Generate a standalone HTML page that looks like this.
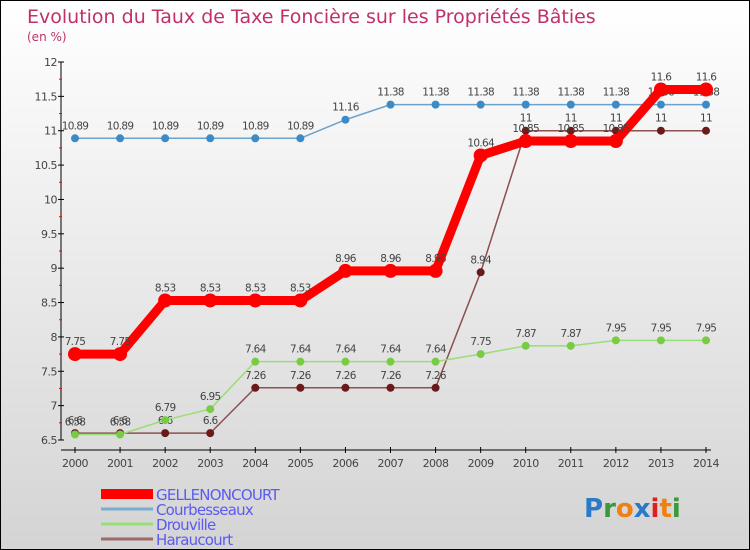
<!DOCTYPE html>
<html><head><meta charset="utf-8"><style>
body{margin:0}
#wrap{position:relative;width:748px;height:548px;border:1px solid #000;background:linear-gradient(#ffffff,#d4d4d4);font-family:"DejaVu Sans","Liberation Sans",sans-serif;overflow:hidden}
</style></head><body>
<div id="wrap">
<svg id="svg" width="748" height="548"></svg>
</div>
<script>
const years=[2000,2001,2002,2003,2004,2005,2006,2007,2008,2009,2010,2011,2012,2013,2014];
const gellen=[7.75,7.75,8.53,8.53,8.53,8.53,8.96,8.96,8.96,10.64,10.85,10.85,10.85,11.6,11.6];
const courb=[10.89,10.89,10.89,10.89,10.89,10.89,11.16,11.38,11.38,11.38,11.38,11.38,11.38,11.38,11.38];
const drouv=[6.58,6.58,6.79,6.95,7.64,7.64,7.64,7.64,7.64,7.75,7.87,7.87,7.95,7.95,7.95];
const harau=[6.6,6.6,6.6,6.6,7.26,7.26,7.26,7.26,7.26,8.94,11,11,11,11,11];
const yTicks=[6.5,7,7.5,8,8.5,9,9.5,10,10.5,11,11.5,12];
const names=["GELLENONCOURT","Courbesseaux","Drouville","Haraucourt"];
const NS="http://www.w3.org/2000/svg";
const svg=document.getElementById('svg');
const X=i=>74+i*(631/14);
const Y=v=>61+(12-v)*(378/5.5);
function el(t,a,p){const e=document.createElementNS(NS,t);for(const k in a)e.setAttribute(k,a[k]);(p||svg).appendChild(e);return e;}
let t=el('text',{x:26,y:22,'font-size':19,fill:'#c0306a'});t.textContent='Evolution du Taux de Taxe Foncière sur les Propriétés Bâties';

t=el('text',{x:26,y:40,'font-size':12,fill:'#c0306a'});t.textContent='(en %)';

// axes
let ax=el('line',{x1:60,y1:Y(12),x2:60,y2:Y(6.5),stroke:'#000'});

ax=el('line',{x1:60,y1:449,x2:X(14)+5,y2:449,stroke:'#000'});

yTicks.forEach(v=>{el('line',{x1:57,y1:Y(v),x2:63,y2:Y(v),stroke:'#000'});
 if(v<12)el('line',{x1:58,y1:Y(v+0.25),x2:61,y2:Y(v+0.25),stroke:'#f00'});
 const l=el('text',{x:56,y:Y(v)+4,'font-size':11,fill:'#444','text-anchor':'end','letter-spacing':'-0.5'});l.textContent=v;
 });
years.forEach((y,i)=>{el('line',{x1:X(i),y1:446,x2:X(i),y2:452,stroke:'#000'});
 const l=el('text',{x:X(i),y:466,'font-size':11,fill:'#444','text-anchor':'middle','letter-spacing':'-0.5'});l.textContent=y;
 });
function series(d,color,w,r,mc,name){const g=el('g',{});
 el('polyline',{points:d.map((v,i)=>X(i)+','+Y(v)).join(' '),fill:'none',stroke:color,'stroke-width':w,'stroke-linejoin':'round'},g);
 d.forEach((v,i)=>{const c=el('circle',{cx:X(i),cy:Y(v),r:r,fill:mc},g);
  const l=el('text',{x:X(i),y:Y(v)-9,'font-size':10.5,fill:'#444','text-anchor':'middle','letter-spacing':'-0.7'},g);l.textContent=v;});}
series(harau,'#8b5050',1.5,4,'#6a1a1a','series-haraucourt');
series(drouv,'#99dd77',1.5,4,'#77cc44','series-drouville');
series(courb,'#6ba3cc',1.5,4,'#3c8bc6','series-courbesseaux');
series(gellen,'#f00',9,7,'#f00','series-gellenoncourt');
const lc=['#f00','#7aaed0','#99dd77','#9a6a6a'],lw=[10,3,3,3],ly=[493,508,523,538];
names.forEach((n,i)=>{const g=el('g',{});
 el('line',{x1:100,y1:ly[i],x2:152,y2:ly[i],stroke:lc[i],'stroke-width':lw[i]},g);
 const l=el('text',{x:155,y:ly[i]+6,'font-size':15,fill:'#5b5bf0','letter-spacing':'-0.8'},g);l.textContent=n;});
const lg=el('text',{x:583,y:516,'font-size':26,'font-weight':'bold'});
[['P','#2a7ac8'],['r','#3a9a3a'],['o','#f08010'],['x','#2a7ac8'],['i','#e02020'],['t','#f08010'],['i','#3a9a3a']].forEach(([c,f])=>{const s=el('tspan',{fill:f},lg);s.textContent=c;});
</script>
</body></html>
